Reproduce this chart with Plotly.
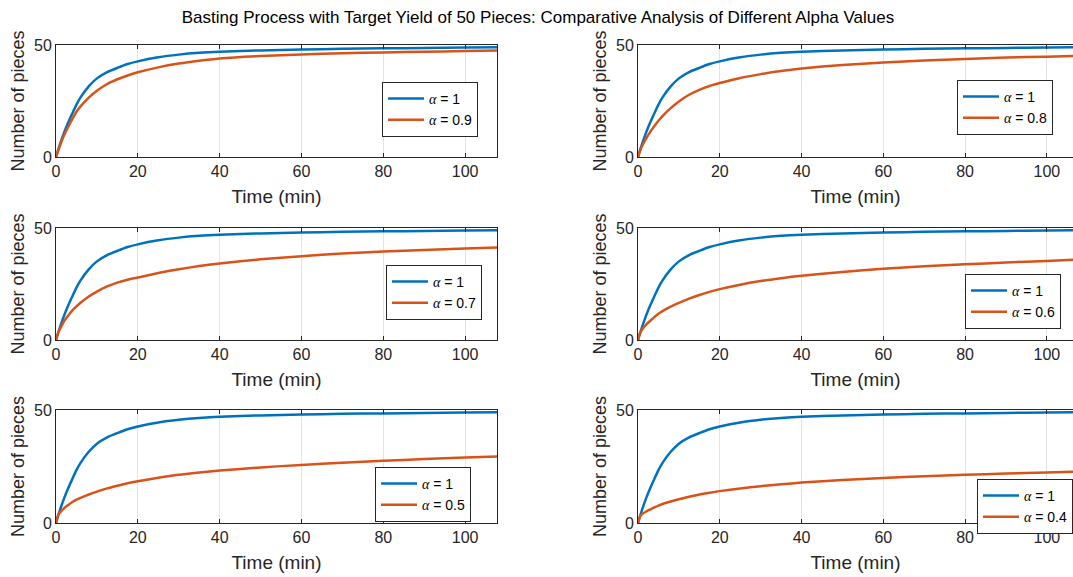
import plotly.graph_objects as go

# ---- data ----
time_min = [0, 0.5, 1, 2, 3, 4, 5, 6, 8, 10, 12.5, 15, 17.5, 20, 25, 30, 35, 40,
            50, 60, 70, 80, 90, 100, 108]

pieces_alpha_1 = [0, 3.0, 5.9, 11.0, 15.5, 19.5, 23.4, 26.6, 31.5, 35.1, 37.9, 39.8, 41.5, 42.7,
                  44.5, 45.7, 46.5, 47.0, 47.6, 48.0, 48.3, 48.5, 48.7, 48.9, 49.0]

alpha_values = ["0.9", "0.8", "0.7", "0.6", "0.5", "0.4"]
pieces_alpha_09 = [0, 2.8, 5.2, 9.8, 13.5, 17.0, 20.2, 22.6, 26.5, 29.6, 32.6, 34.7, 36.4, 37.8,
                   40.0, 41.7, 43.0, 44.0, 45.1, 45.8, 46.3, 46.7, 47.0, 47.3, 47.5]
pieces_alpha_08 = [0, 2.8, 4.9, 8.3, 11.2, 13.8, 16.2, 18.3, 21.8, 24.8, 27.8, 30.0, 31.7, 33.0,
                   35.3, 37.0, 38.4, 39.5, 41.1, 42.2, 43.1, 43.8, 44.4, 44.8, 45.2]
pieces_alpha_07 = [0, 3.2, 5.0, 8.5, 10.9, 13.2, 15.0, 16.6, 19.4, 21.6, 23.9, 25.6, 26.9, 27.9,
                   29.9, 31.6, 33.0, 34.2, 36.0, 37.4, 38.6, 39.5, 40.2, 40.8, 41.3]
pieces_alpha_06 = [0, 3.1, 4.7, 6.9, 8.6, 10.2, 11.7, 12.9, 14.9, 16.6, 18.5, 20.1, 21.5, 22.7,
                   24.7, 26.3, 27.6, 28.7, 30.4, 31.8, 32.9, 33.8, 34.6, 35.3, 35.9]
pieces_alpha_05 = [0, 3.4, 4.7, 6.6, 8.0, 9.3, 10.3, 11.1, 12.6, 13.9, 15.3, 16.5, 17.6, 18.5,
                   20.0, 21.3, 22.3, 23.2, 24.6, 25.7, 26.7, 27.5, 28.3, 29.0, 29.4]
pieces_alpha_04 = [0, 2.9, 4.0, 5.1, 6.0, 6.9, 7.7, 8.4, 9.5, 10.5, 11.6, 12.6, 13.4, 14.1,
                   15.3, 16.3, 17.1, 17.9, 19.0, 19.9, 20.7, 21.3, 21.9, 22.4, 22.8]
orange_series = [pieces_alpha_09, pieces_alpha_08, pieces_alpha_07,
                 pieces_alpha_06, pieces_alpha_05, pieces_alpha_04]

x_ticks = [0, 20, 40, 60, 80, 100]
y_ticks = [0, 50]

# ---- styling / layout ----
BLUE = "#0072BD"
ORANGE = "#D95319"
AX = "#262626"
GRID = "#e3e3e3"
FONT = "Liberation Sans, Arial, sans-serif"
W, H = 1073, 577
ALPHA = "<span style=\"font-family:'Liberation Serif', serif\"><i>α</i></span>"

x_dom = [[56 / W, 497 / W], [638 / W, 1.0]]
x_rng = [[0, 107.8], [0, 106.4]]
y_dom = [[1 - 157 / H, 1 - 45 / H], [1 - 340 / H, 1 - 228 / H], [1 - 523 / H, 1 - 410 / H]]
legend_pos = [(382, 82), (957, 80), (386, 265), (965, 274), (375, 467), (1073, 479)]

fig = go.Figure()
layout = dict(
    width=W, height=H,
    margin=dict(l=0, r=0, t=0, b=0, autoexpand=False),
    paper_bgcolor="white", plot_bgcolor="white",
    font=dict(family=FONT, color=AX),
    title=dict(text="Basting Process with Target Yield of 50 Pieces: Comparative Analysis of Different Alpha Values",
               x=538 / W, xanchor="center", y=1 - 17 / H, yanchor="middle",
               font=dict(size=17, color="black", family=FONT)),
)

for i in range(6):
    r, c = divmod(i, 2)
    n = i + 1
    xa = "x" if n == 1 else f"x{n}"
    ya = "y" if n == 1 else f"y{n}"
    lg = "legend" if n == 1 else f"legend{n}"
    fig.add_trace(go.Scatter(x=time_min, y=pieces_alpha_1, mode="lines",
                             line=dict(color=BLUE, width=2.5, shape="spline", smoothing=0.6),
                             name=f"{ALPHA} = 1", xaxis=xa, yaxis=ya, legend=lg))
    fig.add_trace(go.Scatter(x=time_min, y=orange_series[i], mode="lines",
                             line=dict(color=ORANGE, width=2.5, shape="spline", smoothing=0.6),
                             name=f"{ALPHA} = {alpha_values[i]}", xaxis=xa, yaxis=ya, legend=lg))
    xkey = "xaxis" if n == 1 else f"xaxis{n}"
    ykey = "yaxis" if n == 1 else f"yaxis{n}"
    layout[xkey] = dict(
        domain=x_dom[c], range=x_rng[c], anchor=ya,
        tickvals=x_ticks, ticks="inside", ticklen=4, tickcolor=AX,
        showline=True, linecolor=AX, linewidth=1, mirror="ticks",
        showgrid=True, gridcolor=GRID, gridwidth=1, zeroline=False,
        tickfont=dict(size=16, color=AX, family=FONT),
        title=dict(text="Time (min)", font=dict(size=19, color=AX, family=FONT), standoff=10),
    )
    layout[ykey] = dict(
        domain=y_dom[r], range=[0, 50], anchor=xa,
        tickvals=y_ticks, ticks="inside", ticklen=4, tickcolor=AX,
        showline=True, linecolor=AX, linewidth=1,
        mirror=("ticks" if c == 0 else False),
        showgrid=False, zeroline=False,
        tickfont=dict(size=16, color=AX, family=FONT),
        title=dict(text="Number of pieces", font=dict(size=18, color=AX, family=FONT), standoff=4),
    )
    lx, ly = legend_pos[i]
    layout[lg] = dict(
        x=lx / W, y=1 - ly / H,
        xanchor=("right" if i == 5 else "left"), yanchor="top",
        bgcolor="white", bordercolor=AX, borderwidth=1,
        font=dict(size=14, color="black", family=FONT),
        itemwidth=36, tracegroupgap=0,
    )

fig.update_layout(**layout)
fig.write_html("out.html",
               config={"displayModeBar": False},
               post_script="document.body.style.margin='0';document.body.style.overflow='hidden';")
